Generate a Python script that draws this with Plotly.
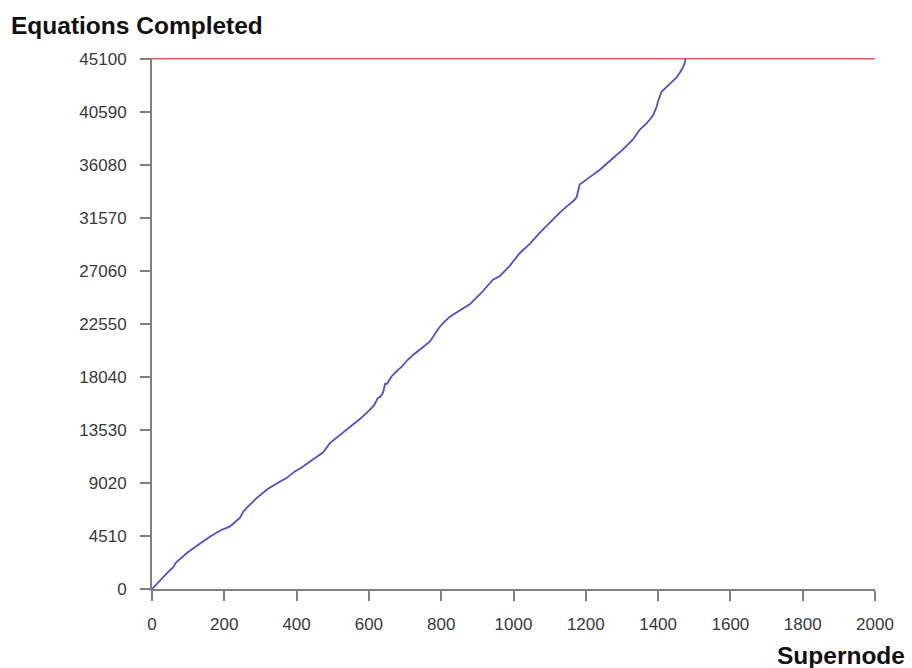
import plotly.graph_objects as go

# supernode index vs cumulative equations completed
supernode = [0, 15, 30, 45, 60, 65, 70, 85, 100, 130, 160, 190, 215, 230, 243, 252, 262,
             290, 320, 350, 373, 395, 417, 440, 473, 492, 520, 547, 575, 603, 615, 625,
             632, 639, 645, 650, 662, 676, 691, 706, 722, 745, 769, 783, 796, 810, 824,
             850, 879, 910, 943, 962, 990, 1017, 1045, 1073, 1100, 1128, 1150, 1168,
             1175, 1180, 1183, 1210, 1239, 1270, 1300, 1330, 1349, 1365, 1377, 1387,
             1396, 1400, 1410, 1422, 1438, 1450, 1460, 1468, 1474, 1476]
equations = [0, 500, 1000, 1450, 1900, 2200, 2350, 2750, 3150, 3800, 4450, 5000, 5300,
             5700, 6050, 6550, 6900, 7750, 8500, 9050, 9450, 10000, 10400, 10900, 11600,
             12400, 13100, 13750, 14450, 15250, 15650, 16250, 16350, 16700, 17450, 17450,
             18050, 18500, 18900, 19450, 19900, 20450, 21050, 21700, 22300, 22750, 23150,
             23650, 24200, 25150, 26300, 26600, 27500, 28550, 29350, 30300, 31150, 32000,
             32600, 33050, 33350, 34000, 34400, 35000, 35650, 36500, 37300, 38200, 39050,
             39500, 39900, 40350, 41000, 41500, 42300, 42650, 43150, 43450, 43900, 44300,
             44750, 45100]

total_equations = 45100
x_max = 2000

y_ticks = [0, 4510, 9020, 13530, 18040, 22550, 27060, 31570, 36080, 40590, 45100]
x_ticks = [0, 200, 400, 600, 800, 1000, 1200, 1400, 1600, 1800, 2000]

tick_font = dict(family='Liberation Sans, Arial, sans-serif', size=17, color='#3a3a3a')
bold_font = dict(family='Liberation Sans, Arial, sans-serif', size=24.5, color='#111111')

fig = go.Figure()

# target line
fig.add_trace(go.Scatter(x=[0, x_max], y=[total_equations, total_equations], mode='lines',
                         line=dict(color='#e05858', width=2), showlegend=False))

fig.add_trace(go.Scatter(x=supernode, y=equations, mode='lines',
                         line=dict(color='#4f4fcf', width=1.8), showlegend=False))

axis_style = dict(showline=True, linecolor='#808080', linewidth=2, ticks='outside',
                  ticklen=10, tickwidth=2, tickcolor='#808080', showgrid=False,
                  zeroline=False, tickfont=tick_font, tickformat='d', fixedrange=True)

fig.update_xaxes(range=[0, x_max], tickvals=x_ticks, ticklabelstandoff=9, **axis_style)
fig.update_yaxes(range=[0, 45150], tickvals=y_ticks, ticklabelstandoff=10, **axis_style)

fig.update_layout(
    width=912, height=668,
    margin=dict(l=152, r=37, t=58, b=79),
    plot_bgcolor='white', paper_bgcolor='white',
    title=dict(text='<b>Equations Completed</b>', font=bold_font,
               x=11/912, xanchor='left', xref='container',
               y=1 - 25/668, yanchor='middle', yref='container'),
    annotations=[dict(text='<b>Supernode</b>', font=bold_font, showarrow=False,
                      xref='paper', yref='paper', x=1 + 32/723, xanchor='right',
                      y=-66/531, yanchor='middle')],
)

# the page body has a default 8px margin; drop it so the figure sits at the corner
fig.write_html("out.html", config={'displayModeBar': False},
               post_script="document.body.style.margin = '0px';")
